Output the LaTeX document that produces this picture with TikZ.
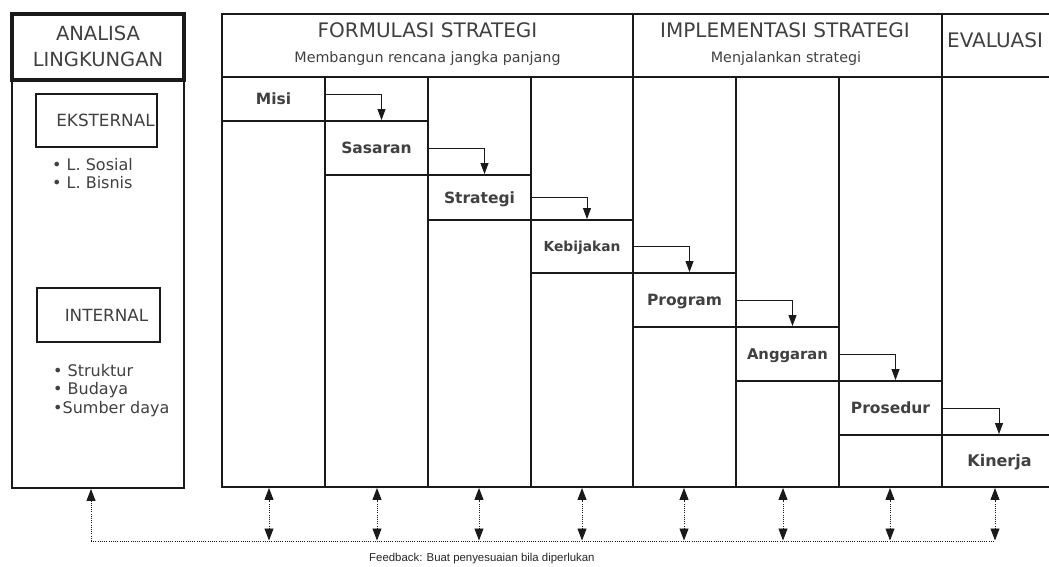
\documentclass[tikz,border=0pt]{standalone}
\usepackage{fontspec}
\setmainfont{DejaVu Sans}
\newfontfamily\arialf{Liberation Sans}
\usetikzlibrary{arrows.meta}
\definecolor{txt}{HTML}{404040}
\definecolor{ln}{HTML}{1A1A1A}
\tikzset{
  boxln/.style={draw=ln, line width=1.9pt, inner sep=0pt},
  cell/.style={boxln, text=txt, text height=11.2pt, text depth=0pt,
               font=\bfseries\fontsize{15.5}{18}\selectfont},
  ttl/.style={text=txt, inner sep=0pt, text height=14.6pt, text depth=0pt,
              font=\fontsize{20}{24}\selectfont},
  sub/.style={text=txt, inner sep=0pt, font=\fontsize{14.3}{17}\selectfont},
  blist/.style={text=txt, inner sep=0pt, align=left, anchor=north west,
                font=\fontsize{16}{18.5}\selectfont},
  stepar/.style={draw=ln, line width=0.8pt, -{Triangle[width=8pt,length=11pt]}},
  fbln/.style={draw=ln, line width=0.9pt, dash pattern=on 1pt off 1.2pt},
  fbone/.style={fbln, -{Triangle[width=9pt,length=12pt]}},
  fbtwo/.style={fbln, {Triangle[width=9pt,length=12pt]}-{Triangle[width=9pt,length=12pt]}},
}
\begin{document}
\begin{tikzpicture}[x=1pt,y=-1pt]
\useasboundingbox[fill=white] (0,0) rectangle (1049,566);

% ---------- Analisa Lingkungan ----------
\node[boxln, minimum width=172pt, minimum height=408pt] (lkbody) at (98,284) {};
\node[draw=ln, line width=3.5pt, inner sep=0pt, minimum width=172pt, minimum height=66pt] (lkhead) at (98,47) {};
\node[text=txt, inner sep=0pt, align=center, font=\fontsize{19.5}{26}\selectfont] (lktitle) at (98,46.5) {ANALISA\\LINGKUNGAN};

\node[draw=ln, line width=1.5pt, inner sep=0pt, minimum width=121pt, minimum height=53pt,
      text=txt, font=\fontsize{16.8}{20}\selectfont, text height=12.2pt, text depth=0pt] (eks) at (96.5,120.5) {\hspace*{18pt}EKSTERNAL};
\node[blist] (eksl) at (52,158) {• L. Sosial\\• L. Bisnis};

\node[draw=ln, line width=1.5pt, inner sep=0pt, minimum width=123pt, minimum height=54pt,
      text=txt, font=\fontsize{16.8}{20}\selectfont, text height=12.2pt, text depth=0pt] (int) at (98.5,315) {\hspace*{16pt}INTERNAL};
\node[blist] (intl) at (53,364) {• Struktur\\• Budaya\\•Sumber daya};

% ---------- header boxes ----------
\node[boxln, minimum width=411pt, minimum height=63pt] (formulasi) at (427.5,45.5) {};
\node[boxln, minimum width=309pt, minimum height=63pt] (implementasi) at (787.5,45.5) {};
\node[boxln, minimum width=110pt, minimum height=63pt] (evaluasi) at (997,45.5) {};

\node[ttl] (formt) at (427.5,30.5) {FORMULASI STRATEGI};
\node[sub] (forms) at (427.5,58.5) {Membangun rencana jangka panjang};
\node[ttl] (implt) at (785,30.5) {IMPLEMENTASI STRATEGI};
\node[sub] (impls) at (786,59) {Menjalankan strategi};
\node[ttl] (evalt) at (995,40) {EVALUASI};

% ---------- columns ----------
\foreach \i/\cx/\w in {1/273.5/103, 2/376.5/103, 3/479.5/103, 4/582/102,
                       5/684.5/103, 6/787.5/103, 7/890.5/103, 8/997/110}{
  \node[boxln, minimum width=\w pt, minimum height=410pt] (c\i) at (\cx,282) {};
}

% ---------- step cells ----------
\node[cell, minimum width=103pt, minimum height=44pt] (misi) at (273.5,99) {Misi};
\node[cell, minimum width=103pt, minimum height=54pt] (sasaran) at (376.5,148) {Sasaran};
\node[cell, minimum width=103pt, minimum height=45pt] (strategi) at (479.5,197.5) {Strategi};
\node[cell, minimum width=102pt, minimum height=53pt, font=\bfseries\fontsize{13.8}{16}\selectfont, text height=10pt] (kebijakan) at (582,246.5) {Kebijakan};
\node[cell, minimum width=103pt, minimum height=54pt] (program) at (684.5,300) {Program};
\node[cell, minimum width=103pt, minimum height=54pt, font=\bfseries\fontsize{14.8}{17}\selectfont] (anggaran) at (787.5,354) {Anggaran};
\node[cell, minimum width=103pt, minimum height=54pt] (prosedur) at (890.5,408) {Prosedur};
\node[cell, minimum width=110pt, minimum height=52pt, font=\bfseries\fontsize{16}{18}\selectfont] (kinerja) at (997,461) {\hspace*{5pt}Kinerja};

% ---------- step arrows ----------
\draw[stepar] ([yshift=5pt]misi.east) -| ([xshift=5pt]sasaran.north);
\draw[stepar] (sasaran.east) -| ([xshift=5pt]strategi.north);
\draw[stepar] (strategi.east) -| ([xshift=5pt]kebijakan.north);
\draw[stepar] (kebijakan.east) -| ([xshift=5pt]program.north);
\draw[stepar] (program.east) -| ([xshift=5pt]anggaran.north);
\draw[stepar] (anggaran.east) -| ([xshift=5pt]prosedur.north);
\draw[stepar] (prosedur.east) -| ([xshift=2pt]kinerja.north);

% ---------- feedback ----------
\coordinate (fb0) at (91,541);
\foreach \k/\x in {1/269,2/377,3/479,4/582,5/684,6/783,7/890,8/995}{
  \coordinate (fb\k) at (\x,541);
}
\draw[fbln] (fb0) -- (fb8);
\draw[fbone] (fb0) -- (fb0 |- lkbody.south);
\foreach \k in {1,...,8}{
  \draw[fbtwo] ([yshift=0.5pt]fb\k) -- (fb\k |- c\k.south);
}
\node[anchor=west, inner sep=0pt, text=black!85, font=\arialf\fontsize{11.4}{13}\selectfont] (fbtext) at (369,559) {Feedback: Buat penyesuaian bila diperlukan};
\end{tikzpicture}
\end{document}
